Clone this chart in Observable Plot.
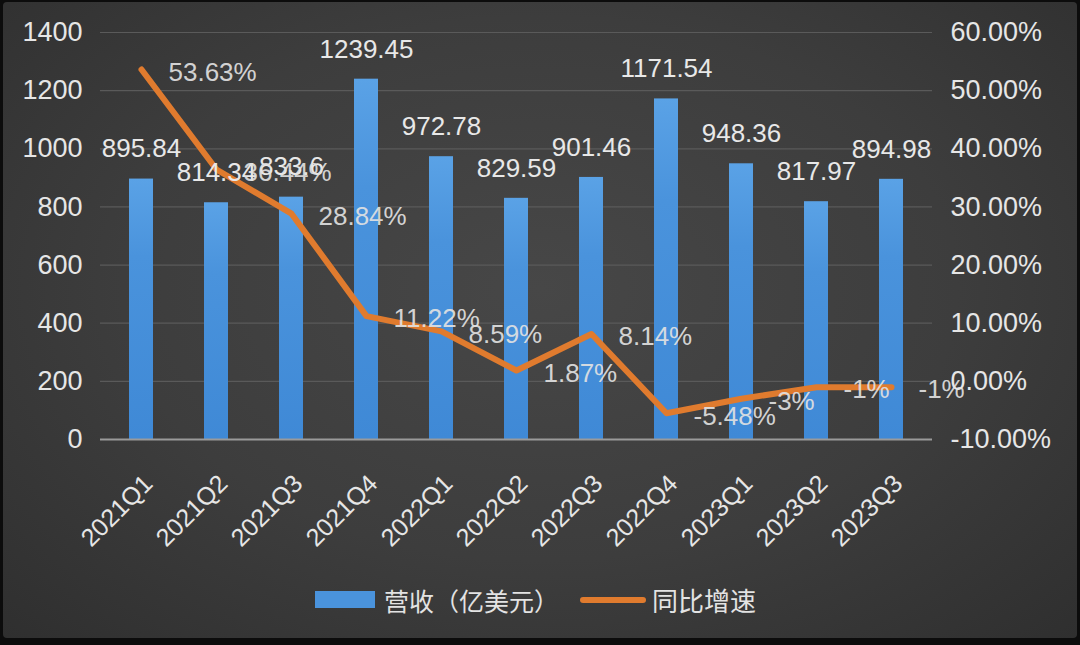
<!DOCTYPE html>
<html><head><meta charset="utf-8">
<script src="https://cdn.jsdelivr.net/npm/d3@7"></script>
<script src="https://cdn.jsdelivr.net/npm/@observablehq/plot@0.6"></script>
<style>
body{margin:0;background:#000;}
#wrap{position:relative;width:1080px;height:645px;overflow:hidden;background:#0c0c0c;font-family:"Liberation Sans",Arial,sans-serif;color:#e6e6e6;}
#panel{position:absolute;left:3px;top:2px;right:3px;bottom:7px;background:radial-gradient(ellipse at 50% 45%, #474747 0%, #3d3d3d 55%, #2f2f2f 100%);border-radius:4px;}
#chart{position:absolute;left:0;top:0;}
.lg{position:absolute;font-family:"Noto Sans CJK SC","Liberation Sans",sans-serif;font-size:25px;color:#e3e3e3;line-height:30px;}
</style></head>
<body><div id="wrap"><div id="panel"></div><div id="chart"></div>
<div style="position:absolute;left:315px;top:591px;width:60px;height:17px;background:#4a93dc"></div>
<div class="lg" style="left:384px;top:585px">营收（亿美元）</div>
<div style="position:absolute;left:580px;top:597px;width:66px;height:6px;border-radius:3px;background:#e07b2e"></div>
<div class="lg" style="left:652px;top:585px;font-size:26px">同比增速</div>
</div>
<script>
const quarters = ["2021Q1","2021Q2","2021Q3","2021Q4","2022Q1","2022Q2","2022Q3","2022Q4","2023Q1","2023Q2","2023Q3"];
const revenue = [895.84, 814.34, 833.6, 1239.45, 972.78, 829.59, 901.46, 1171.54, 948.36, 817.97, 894.98];
const growth = [53.63, 36.44, 28.84, 11.22, 8.59, 1.87, 8.14, -5.48, -3, -1, -1];
const leftTicks = [0, 200, 400, 600, 800, 1000, 1200, 1400];
const rightTicks = [-10, 0, 10, 20, 30, 40, 50, 60];

const g2y = g => (g + 10) * 20; // map right axis (-10..60%) onto left axis (0..1400)
const data = quarters.map((q, i) => ({q, rev: revenue[i], g: growth[i], gy: g2y(growth[i])}));
const font = "'Liberation Sans', Arial, sans-serif";

const plot = Plot.plot({
  width: 1080, height: 570,
  marginLeft: 100, marginRight: 148, marginTop: 32, marginBottom: 131,
  style: {background: "transparent", color: "#e6e6e6", fontFamily: font, fontSize: "26px"},
  x: {domain: quarters, paddingInner: 0.68, paddingOuter: 0.34, axis: null},
  y: {domain: [0, 1400], axis: null},
  marks: [
    Plot.ruleY(leftTicks.filter(d => d > 0), {stroke: "#5a5a5a", strokeWidth: 1.2}),
    Plot.barY(data, {x: "q", y: "rev", fill: "url(#barGrad)"}),
    Plot.ruleY([0], {stroke: "#9a9a9a", strokeWidth: 2}),
    Plot.line(data, {x: "q", y: "gy", stroke: "#e07b2e", strokeWidth: 6, strokeLinejoin: "round", strokeLinecap: "round"}),
    Plot.text(data, {x: "q", y: "rev", text: d => String(d.rev), dy: -30, fontSize: 26, fill: "#e8e8e8"}),
    Plot.text(data, {x: "q", y: "gy", text: d => String(d.g) + "%", textAnchor: "start", dx: 27, dy: 3, fontSize: 26, fill: "#e2e2e2", fillOpacity: 0.92}),
    Plot.axisY(leftTicks, {anchor: "left", tickSize: 0, tickPadding: 18, fontSize: 27, tickFormat: d => String(d)}),
    Plot.axisY(rightTicks.map(g2y), {anchor: "right", tickSize: 0, tickPadding: 18, fontSize: 27, tickFormat: v => (v / 20 - 10).toFixed(2) + "%"}),
    Plot.text(data, {x: "q", y: () => 0, text: "q", rotate: -45, textAnchor: "end", dx: 7, dy: 40, fontSize: 25, fill: "#e6e6e6"})
  ]
});
d3.select(plot).insert("defs", ":first-child").html(
  '<linearGradient id="barGrad" x1="0" y1="0" x2="0" y2="1">' +
  '<stop offset="0" stop-color="#5aa2e6"/><stop offset="0.3" stop-color="#4a93dc"/><stop offset="1" stop-color="#3f89d6"/></linearGradient>');
document.getElementById("chart").appendChild(plot);
</script>
</body></html>
